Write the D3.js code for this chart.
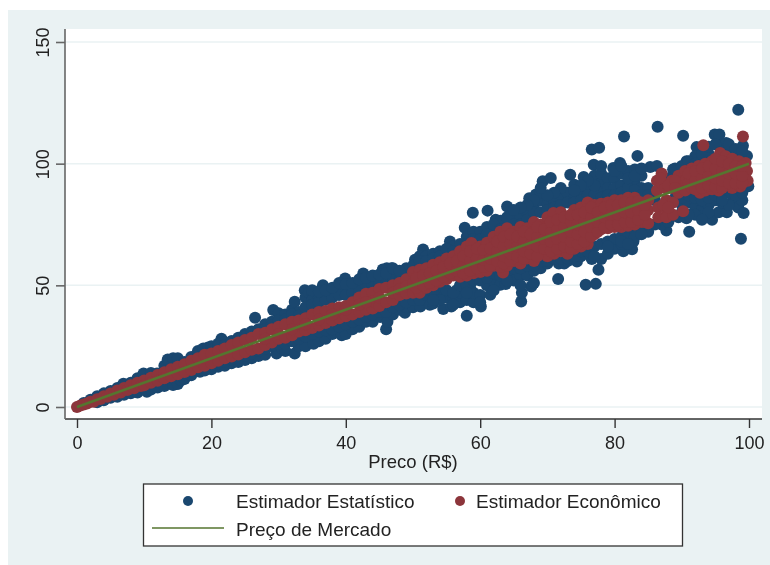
<!DOCTYPE html>
<html>
<head>
<meta charset="utf-8">
<script src="https://cdn.jsdelivr.net/npm/d3@7"></script>
<style>
    html, body { margin: 0; padding: 0; background: #fff; }
    svg { display: block; font-family: "Liberation Sans", Arial, sans-serif; filter: blur(0.45px); }
</style>
</head>
<body>
<div id="chart"></div>
<script>
const xTicks = [0, 20, 40, 60, 80, 100];
const yTicks = [0, 50, 100, 150];
const xTitle = "Preco (R$)";
const legendLabels = ["Estimador Estatístico", "Estimador Econômico", "Preço de Mercado"];

// [preco, estimado]
const estatistico = [
    [1,1.6],[2,3],[3,4.4],[3,2],[4,5.6],[4,2.8],[5,6.6],[5,3.8],[6,7.8],[6,4.2],[6.9,9.6],[7,5],[8,10],[8,5.6],[9,11.8],[9,6],
    [9.9,13.8],[10.4,6.3],[11,14],[11.9,13.8],[11,7.2],[12,8],[13,17],[13,8.6],[13.5,19.5],[14.3,20],[15,20],[14.3,9],[15,9.5],[15.5,11],
    [16,18.5],[16,11.5],[17,20.5],[17,13],[18,23],[18.3,14.5],[18.8,24],[19,15],[19.5,24.5],[20,25],[20,15.5],[21,16.5],[21.5,28],[21,26],
    [22,26.5],[22,17],[23,27],[23,18],[24,28.5],[24,18.5],[25,30],[25,19.3],[26,31],[26,20],[26.5,36.7],[27,32],[27,21],[28,34],[28,21.5],
    [29,35],[29.2,39.9],[29.7,22],[30,38.5],[30.5,24],[31,38],[31,23],[32,40],[32.4,43.3],[32.4,22],[33,39],[33,25],[33.9,48],[34,45],
    [34.5,47],[34,25],[35,47],[35.2,26],[35,44],[36,45],[36.6,50],[36,27],[37,46],[37,28],[38,47],[38,30],[39,49],[39.4,29.5],[39.9,52.8],
    [40,48],[40,30],[41,49],[41,32],[42,50],[42,33],[42.6,54.9],[43,48],[43,35],[44,52],[44,35],[45,53],[45.1,37],[45.5,56.5],[46.1,57],
    [46.8,57],[46,32],[46.2,35],[47,55],[47,38],[48,54],[48,40],[48.8,38.7],[49,57],[49,41],[50,56],[50.3,60.5],[50,41],[51.1,41.3],
    [51.5,64.7],[51,62],[52,62],[52,44],[52.5,42],[53,63],[53,42.5],[53.5,45],[54,64],[54.5,40.3],[54,48],[55,63],[55.5,68],[55.7,41.3],
    [55,45],[56,66],[56,44],[56.5,48],[57,67],[57,43],[57.7,73.7],[57,47],[58,70],[58,37.5],[58,44],[58.9,79.8],[58.5,49],[59,72],[59,43],
    [59,47],[60,72],[60.1,41.3],[60,46],[61.1,80.7],[61,74],[61.5,46.1],[61,50],[62.3,77],[62,72],[62,52],[63,76.5],[63,50.2],[63.8,50.5],
    [64,82.4],[64,76],[64.5,53],[65,78],[65,52],[66.1,43.4],[66.2,47],[66,78],[66,54],[67.3,85.8],[67.6,49.5],[67,80],[67,54],[68,51],
    [68.3,87.3],[68,83],[68,56],[69.3,92.8],[69,85],[69,88],[69,57],[70.5,94.1],[70,83],[70,59],[71.6,52.6],[71.7,59],[71,85],[72,86],
    [72.5,59],[73.4,95.4],[73,88],[73,60],[74,91.3],[74.4,59.8],[74,86],[75.4,94.5],[75,88],[75,62],[75.7,50.2],[76.6,105.8],[76.6,60.8],
    [76,90],[76.9,99.6],[77,95],[77.7,106.5],[77.2,50.6],[77.6,56.4],[77,88],[78,60.8],[78,92],[78,96],[78,88],[79,94],[79,90],[79,63],
    [79.8,98.2],[80,94],[80,90],[80,65],[80.8,100.3],[81,96],[81,91],[81.4,111.2],[81.3,64],[81,67],[82,97],[82,92],[82,88],[82.6,64.8],
    [82.8,68],[83,97.6],[83.3,72],[83.4,103.2],[83,92],[84,95],[84,90],[84,74],[85.3,98.6],[85,90],[85,72],[86.3,99],[86.4,115.2],[87.7,72.5],
    [87,75],[88.7,97.6],[88,76],[89,95],[89.5,78],[90.2,111.5],[90.7,101],[90,97],[90.7,77.6],[90,83],[91.1,72],[91,99],[91,84],[92.2,106.8],
    [92,103],[92,82],[92.7,85],[93,81],[93,102],[93.5,84],[94.5,77],[94.9,112],[94,83],[94,104],[95.6,112],[95.9,107.8],[95,85],[95.5,80],
    [96.6,108.5],[96.7,80],[96,84],[97,106],[97.7,86.7],[97.5,84],[98.4,82],[98.4,122.2],[98.6,104.3],[98.8,69.1],[99.1,107.4],[99.2,79.7],
    [99.7,103.2],[99.9,90.7],[99,85],
    // upper side, between the outer dots and the red band
    [20,23.5],[21,25],[22,25.5],[23,27],[24,28],[25,29],[26,30.5],[27,31.5],[28,32],[29,33.5],[30,35.5],[31,36],[32,38],[33,37.5],[34,41],
    [35,42],[36,43],[37,44],[38,45],[39,46],[40,46],[41,47],[42,48],[43,50],[44,50],[45,51],[46,52],[47,53],[48,52],[49,54],[50,58],
    [35,48],[36,47.5],[37,48],[38,49],[39,51],[40,50.5],[41,51],[42,52.5],[43,53],[44,54],[45,54.5],[46,55],[47,57],[48,56],
    [51,60],[52,60],[53,61],[54,62],[55,65],[56,64],[57,64],[58,67],[59,69],[60,69],[61,71],[62,75],[63,73],[64,78],[65,75],[66,75],[67,77],
    [68,80],[69,80],[70,81],[71,82],[72,83],[73,84],[74,84],[75,85],[76,87],[77,87],[77,91],[78,86],[79,87],[80,87],[81,88],[82,90],[83,89],
    [84,87],[85,87],[78,99],[80,97],[81,99],[82,94],[83,95],[84,98],[76,93],[75,91],[74,89],[72,90],[71,88],[70,87],[69,90],[68,85],[67,83],[66,82],[65,81],
    [88,94],[89,98],[90,99],[91,101],[92,100],[93,104],[94,107],[95,108],[96,105],[97,108],[98,106],[99,105],
    // lower side
    [20,17],[21,18],[22,18.5],[23,19.5],[24,20],[25,21],[26,22],[27,23],[28,24],[29,25],[30,26],[31,26],[32,27],[33,28],[34,29],[35,30],
    [36,31],[37,31.5],[38,32],[39,33],[40,34],[41,35],[42,36],[43,37],[44,38],[45,39],[46,39],[47,41],[48,42],[49,43],[50,44],
    [51,44],[52,46],[53,47],[54,44],[55,48],[56,47],[57,50],[58,50],[59,52],[60,52],[61,53],[62,55],[63,54],[64,56],[65,57],[66,57],[64,52],[66,50],
    [67,58],[68,58],[69,60],[70,60],[71,61],[72,61],[73,61],[74,62],[75,64],[76,64],[77,66],[78,67],[79,68],[80,69],[81,70],[82,71],[83,70],[84,71],
    [77,62],[79,66],[81,68],[82,67],[60,43],[62,48],[56,42],[53,44],[58,47],
    [86,85],[86,75],[89,86],[90,86],[91,87],[92,86],[93,85],[94,86],[95,87],[96,87],[97,88],[98,87],[99,88],[90,80],[92,79],[94,80],[97,83],[91,79],[93,77],[96,85]
];

const economico = [
    [0,0],[0.5,0.6],[1,1],[1.5,1.4],[2,2.2],[2.5,2.2],[3,3.2],[3.5,3.3],[4,4.4],[4.5,4.2],[5,5.5],[5.5,5],[6,6.8],[6.5,6],[7,7.8],[7.5,7],
    [8,8.9],[8.5,7.7],[9,10],[9.5,8.6],[10,10.9],[10,8.9],[11,12],[11,10],[12,13.2],[12,10.8],[13,14.3],[13,11.8],[14,15.5],[14,12.6],
    [15,16.5],[15,13.5],[16,17.6],[16,14.4],[17,19],[17,15.2],[18,20],[18,16.3],[19,21.5],[19,17],[20,22],[20,18],[21,23],[21,19],
    [22,24],[22,20],[23,25.5],[23,20.8],[24,26.5],[24,21.6],[25,27.5],[25,22.5],[26,28.5],[26,23.5],[27,30],[27,24],[28,30.5],[28,25.5],
    [29,32],[29,26.5],[30,33],[30,28],[30,30],[31,34],[31,28.5],[32,35],[32,29.5],[33,35.5],[33,31],[34,36.5],[34,31.5],[35,38],[35,32.5],
    [36,39],[36,33.5],[37,39.5],[37,34.5],[38,40.5],[38,35.5],[39,41],[39,36.5],[40,41.5],[40,37.3],[41,43],[41,38],[42,45],[42,39],
    [43,46.5],[43,40],[44,47],[44,40.5],[44,43.5],[45,48.5],[45,41.5],[45,45],[46,49],[46,43],[47,50],[47,44],[47,47],[48,51],[48,46],[48,48.5],
    [28,28],[32,32],[34,34],[36,36],[38,38],[40,40],[42,42],[43,43],
    [49,52.5],[49,46.6],[49,49.5],[50,55.5],[50,51],[50,47],[51,56.4],[51,52],[51,47],[52,57],[52,53],[52,49],[53,58.5],[53,54],[53,50],
    [54,59.5],[54,55.5],[54,51.5],[55,61],[55,57],[55,53],[55,52.5],[56,62],[56,58],[56,54],[57,64],[57,60],[57,56],[57,53.5],
    [58,66],[58,62],[58,58],[58,54],[58.7,67.4],[59,63],[59,59],[59,55],[60,66],[60,62],[60,58],[60,55.5],[61,67.5],[61,63],[61,59],[61,56],
    [62,70],[62,66],[62,62],[62,58],[63,72],[63,68],[63,64],[63.4,55.3],[63,60],[63,57.5],[64,73.5],[64,69],[64,65],[64,61],[64,58],
    [65,72],[65,68],[65,64],[65,60],[66,74],[66,70],[66,66],[66,62],[66,59],[67,73.5],[67,69],[67,65],[67,61],[68,76],[68,72],[68,68],[68,64],[68,60],
    [69,75],[69,71],[69,67],[69,63],[70,78],[70,74],[70,70],[70,66],[70,62],[70.9,79.7],[71,75],[71,71],[71,67],[71,63],
    [72,80],[72,76],[72,72],[72,68],[72,64],[73,78],[73,74],[73,70],[73,66],[73,63],[74,81],[74,77],[74,73],[74,69],[74,65],
    [75,82],[75,78],[75,74],[75,70],[75,66],[76,84],[76,80],[76,76],[76,72],[76,67],[77,83],[77,79],[77,75],[77,71],[78,83.5],[78,80],[78,76],[78,73],
    [79,84],[79,81],[79,77],[79,73.5],[80,85],[80,81],[80,77],[80,74],[81,85],[81,81],[81,77],[81,74],[82,86],[82,82],[82,78],[82,74.5],
    [83,86],[83,82],[83,78],[83,75],[84,84],[84,80],[84,76],[84.5,76],[85,85],[85,81],[85,75.5],
    [86.3,93],[86.3,89],[86.5,82],[86.5,78],[87,96],[87,92],[87.5,90],[87.7,85],[87.7,81],[87.7,78],[88.5,93],[88.5,90],[88.7,84],[88.7,79],
    [89.5,95],[89.5,91],[89.5,88],[90.2,80.4],[90.5,97],[90.5,93],[90.5,89],[91.5,98],[91.5,94],[91.5,90],[92.5,99],[92.5,95],[92.5,91],[92.7,88],
    [93.2,107.6],[93.5,100],[93.5,96],[93.5,92],[93.5,89],[94.5,101],[94.5,97],[94.5,93],[94.5,89.5],[95.7,104.4],[95.5,100],[95.5,96],[95.5,92],[95.5,89],
    [96.5,103],[96.5,99],[96.5,95],[96.5,91],[97.5,102],[97.5,98],[97.5,94],[97.5,90],[98.5,101],[98.5,97],[98.5,94],[98.7,90.6],
    [99.1,111.2],[99.5,100.3],[99.7,97],[99.8,93],
    // dots packed between the ones above, where the band reads as solid
    [50.5,49],[50.5,53],[51.5,50],[51.5,54],[52.5,51],[52.5,55],[53.5,52],[53.5,56],[54.5,53.5],[54.5,57.5],[55.5,55],[55.5,59],[56.5,56],[56.5,60],
    [57.5,55],[57.5,58],[57.5,62],[58.5,56],[58.5,60],[58.5,64],[59.5,57],[59.5,61],[59.5,65],[60.5,57.5],[60.5,60.5],[60.5,64.5],[61.5,58],[61.5,61],[61.5,65],
    [62.5,60],[62.5,64],[62.5,68],[63.5,59],[63.5,62],[63.5,66],[63.5,70],[64.5,60],[64.5,63],[64.5,67],[64.5,71],[65.5,62],[65.5,66],[65.5,70],
    [66.5,61],[66.5,64],[66.5,68],[66.5,72],[67.5,63],[67.5,67],[67.5,71],[68.5,62],[68.5,66],[68.5,70],[68.5,74],[69.5,65],[69.5,69],[69.5,73],
    [70.5,64],[70.5,68],[70.5,72],[70.5,76],[71.5,65],[71.5,69],[71.5,73],[71.5,77],[72.5,66],[72.5,70],[72.5,74],[72.5,78],
    [73.5,65],[73.5,68],[73.5,72],[73.5,76],[73.5,79],[74.5,67],[74.5,71],[74.5,75],[74.5,79],[75.5,68],[75.5,72],[75.5,76],[75.5,80],
    [76.5,70],[76.5,74],[76.5,78],[76.5,82],[77.5,72],[77.5,76],[77.5,80],[78.5,74],[78.5,78],[78.5,82],[79.5,75],[79.5,79],[79.5,83],
    [80.5,75],[80.5,79],[80.5,83],[81.5,76],[81.5,80],[81.5,84],[82.5,76],[82.5,80],[82.5,84],[83.5,77],[83.5,81],[83.5,84.5],[84.5,79],[84.5,83],
    [86.8,94],[87.2,83],[88,91],[88,82],[89,93],[89,90],
    [91,92],[91,96],[92,89.5],[92,93],[92,97],[93,90],[93,94],[93,98],[94,91],[94,95],[94,99],[95,90.5],[95,94],[95,98],[95,102],
    [96,90],[96,93],[96,97],[96,101],[97,92],[97,96],[97,100],[98,92],[98,96],[98,99],[99,92],[99,95],[99,99]
];

const mercado = [[0, 0], [100, 100]];

const width = 770;
const height = 565;

const colorEstatistico = "#1a476f";
const colorEconomico = "#8c353b";
const colorMercado = "#55752f";
const background = "#eaf2f3";
const markerRadius = 6;

const x = d3.scaleLinear().domain([0, 100]).range([77, 749]);
const y = d3.scaleLinear().domain([0, 150]).range([407, 42]);

const svg = d3.select("#chart").append("svg")
    .attr("width", width)
    .attr("height", height);

svg.append("rect")
    .attr("x", 8).attr("y", 10)
    .attr("width", width - 8).attr("height", height - 10)
    .attr("fill", background);

svg.append("rect")
    .attr("x", 65).attr("y", 29)
    .attr("width", 697).attr("height", 390)
    .attr("fill", "#fff");

svg.append("g")
    .selectAll("line")
    .data(yTicks)
    .join("line")
    .attr("x1", 65)
    .attr("x2", 762)
    .attr("y1", d => y(d))
    .attr("y2", d => y(d))
    .attr("stroke", background)
    .attr("stroke-width", 1.5);

svg.append("g")
    .selectAll("circle")
    .data(estatistico)
    .join("circle")
    .attr("cx", d => x(d[0]))
    .attr("cy", d => y(d[1]))
    .attr("r", markerRadius)
    .attr("fill", colorEstatistico);

svg.append("g")
    .selectAll("circle")
    .data(economico)
    .join("circle")
    .attr("cx", d => x(d[0]))
    .attr("cy", d => y(d[1]))
    .attr("r", markerRadius)
    .attr("fill", colorEconomico);

const line = d3.line().x(d => x(d[0])).y(d => y(d[1]));

svg.append("path")
    .datum(mercado)
    .attr("d", line)
    .attr("fill", "none")
    .attr("stroke", colorMercado)
    .attr("stroke-width", 2.6);

const xAxis = svg.append("g")
    .attr("transform", "translate(0,419)")
    .call(d3.axisBottom(x).tickValues(xTicks).tickSize(9).tickPadding(8).tickSizeOuter(0));

const yAxis = svg.append("g")
    .attr("transform", "translate(65,0)")
    .call(d3.axisLeft(y).tickValues(yTicks).tickSize(9).tickSizeOuter(0));

// the domain path only runs between the scale ends, the frame is longer
xAxis.select(".domain").attr("d", "M65,0H762");
yAxis.select(".domain").attr("d", "M0,29V419");

xAxis.selectAll("path, line").attr("stroke", "#333").attr("stroke-width", 1.4);
yAxis.selectAll("path, line").attr("stroke", "#666").attr("stroke-width", 1.6);

xAxis.selectAll("text")
    .attr("font-family", "Liberation Sans")
    .attr("font-size", 18)
    .attr("fill", "#222");

yAxis.selectAll("text")
    .attr("font-family", "Liberation Sans")
    .attr("font-size", 18)
    .attr("fill", "#222")
    .attr("text-anchor", "middle")
    .attr("x", 0)
    .attr("dy", 0)
    .attr("transform", "translate(-16,0) rotate(-90)");

svg.append("text")
    .attr("x", 413)
    .attr("y", 468)
    .attr("text-anchor", "middle")
    .attr("font-size", 18.5)
    .attr("fill", "#222")
    .text(xTitle);

const legend = svg.append("g");

legend.append("rect")
    .attr("x", 143.5).attr("y", 484)
    .attr("width", 539).attr("height", 62)
    .attr("fill", "#fff")
    .attr("stroke", "#333")
    .attr("stroke-width", 1.3);

legend.append("circle")
    .attr("cx", 188).attr("cy", 501).attr("r", 5)
    .attr("fill", colorEstatistico);

legend.append("circle")
    .attr("cx", 460).attr("cy", 501).attr("r", 5)
    .attr("fill", colorEconomico);

legend.append("line")
    .attr("x1", 152).attr("x2", 224)
    .attr("y1", 528).attr("y2", 528)
    .attr("stroke", colorMercado)
    .attr("stroke-width", 1.3);

legend.selectAll("text")
    .data([[236, 508], [476, 508], [236, 536]])
    .join("text")
    .attr("x", d => d[0])
    .attr("y", d => d[1])
    .attr("font-size", 19)
    .attr("fill", "#222")
    .text((d, i) => legendLabels[i]);
</script>
</body>
</html>
